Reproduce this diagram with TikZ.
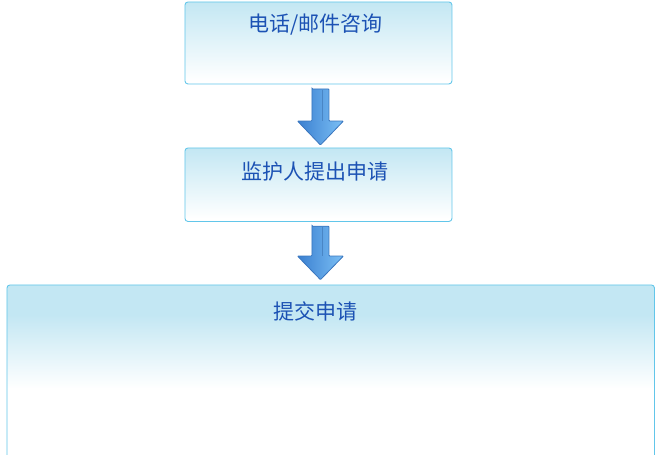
\documentclass[tikz,border=0pt]{standalone}
\usepackage{fontspec}
\newfontfamily\cjk{Noto Sans CJK SC}
\usetikzlibrary{calc}
\definecolor{boxline}{HTML}{62C6EA}
\definecolor{boxtop}{HTML}{C3E7F3}
\definecolor{txt}{HTML}{1C52B4}
\definecolor{arrl}{HTML}{3A7FD0}
\definecolor{arrr}{HTML}{7CC0F5}
\definecolor{arrline}{HTML}{3A76BE}
\pgfdeclareverticalshading{shA}{100bp}{color(0bp)=(white); color(27bp)=(white); color(75bp)=(boxtop); color(100bp)=(boxtop)}
\pgfdeclareverticalshading{shB}{100bp}{color(0bp)=(white); color(47bp)=(white); color(67bp)=(boxtop); color(100bp)=(boxtop)}
\begin{document}
\begin{tikzpicture}[x=1pt,y=-1pt,
  box/.style={draw=boxline, line width=0.9pt, rounded corners=3pt, anchor=north west, inner sep=0pt},
  lbl/.style={font=\cjk\fontsize{21}{21}\selectfont, text=txt, inner sep=0pt},
  bigarrow/.style={draw=arrline, line width=0.8pt, left color=arrl, right color=arrr, rounded corners=0.8pt}]
\useasboundingbox (0,0) rectangle (659,455);
\node[box, shading=shA, minimum width=267pt, minimum height=82pt] (b1) at (184.5,1.5) {};
\node[box, shading=shA, minimum width=267pt, minimum height=73.5pt] (b2) at (184.5,147.5) {};
\node[box, shading=shB, minimum width=647.5pt, minimum height=185pt] (b3) at (6.5,284.5) {};
\node[lbl] (t1) at ($(b1.north)+(-3,23.5)$) {电话/邮件咨询};
\node[lbl] (t2) at ($(b2.north)+(-3,24.5)$) {监护人提出申请};
\node[lbl] (t3) at ($(b2.south |- b3.north)+(-3,26.5)$) {提交申请};
% arrow 1
\path ($(b1.south)+(2,4.5)$) coordinate (a1top) ($(b2.north)+(2,-2.5)$) coordinate (a1tip);
\draw[bigarrow] ($(a1top)+(-8.5,0)$) -- ($(a1top)+(8.5,0)$) |- ($(a1tip)+(23,-24)$) -- (a1tip) -- ($(a1tip)+(-23,-24)$) -| cycle;
\draw[arrline!85!black, opacity=0.45, line width=0.8pt] ($(a1top)+(1.5,0.8)$) -- ($(a1tip)+(1.5,-24)$);
% arrow 2
\path ($(b2.south)+(2,4.3)$) coordinate (a2top) ($(b2.south |- b3.north)+(2,-4.8)$) coordinate (a2tip);
\draw[bigarrow] ($(a2top)+(-8.5,0)$) -- ($(a2top)+(8.5,0)$) |- ($(a2tip)+(23,-23.7)$) -- (a2tip) -- ($(a2tip)+(-23,-23.7)$) -| cycle;
\draw[arrline!85!black, opacity=0.45, line width=0.8pt] ($(a2top)+(1.5,0.8)$) -- ($(a2tip)+(1.5,-23.7)$);
\end{tikzpicture}
\end{document}
